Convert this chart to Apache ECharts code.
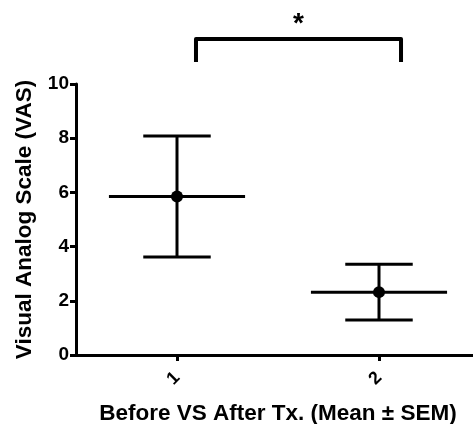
<!DOCTYPE html>
<html>
<head>
<meta charset="utf-8">
<script src="https://cdn.jsdelivr.net/npm/echarts@6/dist/echarts.min.js"></script>
<style>
  html, body { margin: 0; padding: 0; background: #fff; }
  #chart { width: 473px; height: 424px; }
</style>
</head>
<body>
<div id="chart"></div>
<script>
  // groups on the x axis (before / after treatment)
  var groups = [1, 2];
  // mean VAS and SEM for each group
  var means = [5.85, 2.32];
  var sems = [2.23, 1.03];
  var yTicks = [0, 2, 4, 6, 8, 10];
  var sigLabel = '*';

  var FONT = '"Liberation Sans", Arial, sans-serif';

  var chart = echarts.init(document.getElementById('chart'));

  var errData = groups.map(function (g, i) {
    return [g, means[i], sems[i]];
  });

  chart.setOption({
    animation: false,
    grid: { left: 76, top: 84, width: 404, height: 271, outerBoundsMode: 'none', containLabel: false },
    xAxis: {
      type: 'value',
      min: 0.5,
      max: 2.5,
      name: 'Before VS After Tx. (Mean \u00b1 SEM)',
      nameLocation: 'middle',
      nameGap: 47,
      nameTextStyle: { color: '#000', fontFamily: FONT, fontWeight: 'bold', fontSize: 22.5 },
      axisLine: { lineStyle: { color: '#000', width: 3 } },
      axisTick: { customValues: groups, length: 6, lineStyle: { color: '#000', width: 3 } },
      axisLabel: {
        customValues: groups,
        rotate: 45,
        margin: 20,
        color: '#000',
        fontFamily: FONT,
        fontWeight: 'bold',
        fontSize: 18
      },
      splitLine: { show: false }
    },
    yAxis: {
      type: 'value',
      min: 0,
      max: 10,
      interval: 2,
      name: 'Visual Analog Scale (VAS)',
      nameLocation: 'middle',
      nameGap: 40,
      nameTextStyle: { color: '#000', fontFamily: FONT, fontWeight: 'bold', fontSize: 22.5 },
      axisLine: { show: true, lineStyle: { color: '#000', width: 3 } },
      axisTick: { show: true, length: 6, lineStyle: { color: '#000', width: 3 } },
      axisLabel: {
        margin: 7,
        color: '#000',
        fontFamily: FONT,
        fontWeight: 'bold',
        fontSize: 19,
        formatter: function (v) { return yTicks.indexOf(v) >= 0 ? v : ''; }
      },
      splitLine: { show: false }
    },
    series: [
      {
        // mean line, SEM whiskers and dot
        type: 'custom',
        data: errData,
        clip: false,
        renderItem: function (params, api) {
          var x = api.value(0), m = api.value(1), s = api.value(2);
          var c = api.coord([x, m]);
          var top = api.coord([x, m + s]);
          var bot = api.coord([x, m - s]);
          var meanL = api.coord([x - 0.337, m]);
          var meanR = api.coord([x + 0.337, m]);
          var capL = api.coord([x - 0.167, m])[0];
          var capR = api.coord([x + 0.167, m])[0];
          var st = { stroke: '#000', lineWidth: 3 };
          return {
            type: 'group',
            children: [
              { type: 'line', shape: { x1: meanL[0], y1: c[1], x2: meanR[0], y2: c[1] }, style: st },
              { type: 'line', shape: { x1: c[0], y1: top[1], x2: c[0], y2: bot[1] }, style: st },
              { type: 'line', shape: { x1: capL, y1: top[1], x2: capR, y2: top[1] }, style: st },
              { type: 'line', shape: { x1: capL, y1: bot[1], x2: capR, y2: bot[1] }, style: st },
              { type: 'circle', shape: { cx: c[0], cy: c[1], r: 6 }, style: { fill: '#000' } }
            ]
          };
        }
      },
      {
        // significance bracket
        type: 'custom',
        data: [[1.094, 2.109, 11.66, 10.81]],
        clip: false,
        renderItem: function (params, api) {
          var a = api.coord([api.value(0), api.value(2)]);
          var b = api.coord([api.value(1), api.value(2)]);
          var legY = api.coord([api.value(0), api.value(3)])[1];
          var star = api.coord([(api.value(0) + api.value(1)) / 2, 12.2]);
          return {
            type: 'group',
            children: [
              {
                type: 'polyline',
                shape: { points: [[a[0], legY], [a[0], a[1]], [b[0], b[1]], [b[0], legY]] },
                style: { stroke: '#000', lineWidth: 4, fill: null, lineJoin: 'round' }
              },
              {
                type: 'text',
                style: {
                  x: star[0], y: star[1], text: sigLabel,
                  fill: '#000', font: 'bold 28px ' + FONT,
                  align: 'center', verticalAlign: 'middle'
                }
              }
            ]
          };
        }
      }
    ]
  });
</script>
</body>
</html>
